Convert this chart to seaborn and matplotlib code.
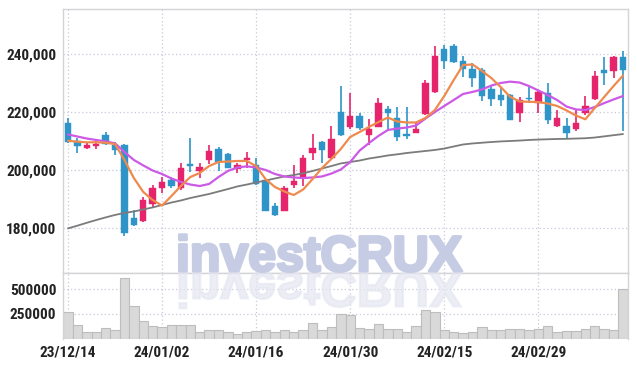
import numpy as np
import pandas as pd
import matplotlib
matplotlib.use("Agg")
import matplotlib.pyplot as plt
import seaborn as sns
from matplotlib import font_manager as fm
from matplotlib import patheffects as pe
from matplotlib.textpath import TextPath
from matplotlib.patches import PathPatch
from matplotlib.font_manager import FontProperties
from matplotlib.transforms import Affine2D
from matplotlib.ticker import FuncFormatter

# trading days (KRX), 23/12/14 .. 24/03/14
dates = ['23/12/14', '23/12/15', '23/12/18', '23/12/19', '23/12/20', '23/12/21', '23/12/22',
         '23/12/26', '23/12/27', '23/12/28',
         '24/01/02', '24/01/03', '24/01/04', '24/01/05', '24/01/08', '24/01/09', '24/01/10',
         '24/01/11', '24/01/12', '24/01/15', '24/01/16', '24/01/17', '24/01/18', '24/01/19',
         '24/01/22', '24/01/23', '24/01/24', '24/01/25', '24/01/26', '24/01/29', '24/01/30',
         '24/01/31', '24/02/01', '24/02/02', '24/02/05', '24/02/06', '24/02/07', '24/02/08',
         '24/02/13', '24/02/14', '24/02/15', '24/02/16', '24/02/19', '24/02/20', '24/02/21',
         '24/02/22', '24/02/23', '24/02/26', '24/02/27', '24/02/28', '24/02/29',
         '24/03/04', '24/03/05', '24/03/06', '24/03/07', '24/03/08', '24/03/11', '24/03/12',
         '24/03/13', '24/03/14']

opens = [216000, 210050, 207600, 208200, 212000, 208600, 208600, 183450, 182400, 188200,
         193600, 196500, 193600, 201900, 199700, 203400, 207200, 205450, 200200, 203400,
         201650, 196500, 187500, 185900, 194750, 197050, 205900, 209600, 204200, 220050,
         214900, 218600, 212000, 214900, 220900, 217800, 212250, 212800, 219300, 227000,
         241750, 242850, 237600, 234800, 234450, 227800, 225850, 225850, 219500, 224900,
         222950, 226650, 215250, 215150, 214100, 219500, 224350, 234450, 234250, 239050]
highs = [217800, 211000, 209200, 210050, 213200, 209700, 208750, 186100, 190500, 194750,
         197600, 197600, 202450, 210900, 202250, 208400, 207800, 205800, 202450, 206250,
         204000, 196800, 188650, 194400, 201650, 205100, 212250, 210000, 215250, 228950,
         226400, 219700, 217450, 224700, 222050, 221800, 221800, 216050, 231000, 242750,
         243100, 243450, 239300, 236800, 235150, 228950, 228700, 226200, 225250, 228950,
         227350, 230100, 220650, 217800, 220650, 225500, 234250, 238850, 239150, 241200]
lows = [209400, 205700, 207100, 207100, 208650, 205100, 177100, 180600, 182100, 187250,
        191900, 193600, 193000, 199350, 197200, 202000, 199700, 200450, 199000, 200500,
        194750, 185600, 184050, 185750, 193600, 194400, 203400, 202450, 203850, 211850,
        214000, 213750, 208600, 214700, 213750, 210050, 210550, 212600, 218950, 226450,
        234700, 236800, 232150, 228700, 223850, 222050, 222050, 217050, 216600, 223200,
        219700, 215800, 214900, 210550, 213400, 218950, 224100, 229300, 231600, 213500]
closes = [209700, 208300, 208600, 208900, 208800, 206850, 178300, 180950, 189550, 193600,
          195900, 194400, 200500, 201400, 201100, 206500, 202800, 200700, 201650, 204000,
          195100, 185900, 184400, 193600, 196150, 204000, 207450, 206850, 210550, 212000,
          218600, 214350, 214000, 222950, 219700, 211450, 211800, 214000, 229900, 239300,
          237700, 237250, 234700, 231800, 225600, 224450, 224100, 217200, 224100, 224450,
          227000, 217200, 218000, 212800, 216050, 222050, 232400, 233550, 239050, 234450]

ma5 = [210050, 209700, 209500, 209500, 209350, 208900, 203400, 197150, 192350, 189550,
       187650, 190950, 194400, 197500, 198900, 201300, 202700, 202850, 203050, 203050,
       201300, 196800, 194050, 192500, 191300, 193200, 196800, 200600, 203750, 207200,
       211350, 213050, 214800, 216500, 218050, 216700, 216350, 216350, 217900, 220650,
       225500, 231000, 236200, 236400, 234150, 231700, 228600, 225250, 223600, 223500,
       223400, 222900, 222050, 220500, 218750, 217450, 221350, 225150, 228950, 232550]
ma20 = [212200, 211500, 210800, 210300, 209800, 209150, 206150, 203400, 201500, 199750,
        198550, 197000, 195800, 194900, 194400, 195100, 197500, 199600, 200800, 201200,
        200800, 199950, 198550, 197700, 197350, 197150, 197350, 197700, 198700, 200100,
        202700, 206650, 209250, 211700, 213750, 214250, 214600, 215300, 217700, 219950,
        222050, 224100, 226200, 226900, 227750, 229100, 230000, 230450, 230150, 228950,
        227400, 225850, 224100, 221850, 220850, 220650, 221700, 223050, 224300, 225500]
ma60 = [179750, 180700, 181700, 182650, 183550, 184400, 185100, 185600, 186300, 187000,
        187850, 188700, 189400, 190250, 190950, 191650, 192500, 193350, 194250, 194900,
        195600, 196300, 197000, 197700, 198200, 198800, 199600, 200450, 201300, 202200,
        202700, 203200, 203900, 204400, 204950, 205350, 205800, 206150, 206500, 206850,
        207350, 208050, 208750, 209100, 209350, 209600, 209800, 209950, 210100, 210300,
        210450, 210550, 210650, 210700, 210800, 210900, 211150, 211550, 211950, 212350]

volume = [267000, 139000, 61000, 71000, 105000, 88000, 611000, 331000, 179000, 129000,
          115000, 139000, 139000, 139000, 68000, 88000, 88000, 68000, 48000, 68000,
          78000, 88000, 61000, 88000, 61000, 88000, 162000, 88000, 115000, 250000,
          243000, 105000, 95000, 149000, 95000, 95000, 68000, 129000, 290000, 270000,
          88000, 68000, 55000, 68000, 115000, 88000, 88000, 98000, 98000, 88000,
          98000, 129000, 68000, 78000, 78000, 98000, 129000, 98000, 88000, 500000]

price_ticks = [180000, 200000, 220000, 240000]
vol_ticks = [250000, 500000]
label_every = 10

UP = '#e5246b'
DOWN = '#2f95c8'
GRID = '#c7c9dc'
SPINE = '#d4d4d8'


def narrow_font():
    # a condensed face if the box has one, otherwise plain Liberation Sans
    for fam in ['Liberation Sans Narrow', 'Roboto Condensed', 'DejaVu Sans Condensed']:
        try:
            fm.findfont(FontProperties(family=fam), fallback_to_default=False)
            return fam, 11.0
        except ValueError:
            pass
    return 'Liberation Sans', 9.6


sns.set_theme(style='white')
tick_family, tick_size = narrow_font()
plt.rcParams['font.family'] = [tick_family, 'DejaVu Sans']

df = pd.DataFrame({'date': dates, 'open': opens, 'high': highs, 'low': lows,
                   'close': closes, 'ma5': ma5, 'ma20': ma20, 'ma60': ma60,
                   'volume': volume})
df['idx'] = np.arange(len(df))
df['up'] = df['close'] >= df['open']
colors = np.where(df['up'], UP, DOWN)

W, H = 637, 366
fig = plt.figure(figsize=(W / 100, H / 100), dpi=100)
fig.patch.set_facecolor('white')
left, right = 63.3, 627.7
ax = fig.add_axes([left / W, (H - 272.7) / H, (right - left) / W, (272.7 - 9.3) / H])
axv = fig.add_axes([left / W, (H - 338.5) / H, (right - left) / W, (338.5 - 272.7) / H])

# volume
sns.barplot(data=df, x='idx', y='volume', ax=axv, color='#d9d9d9', saturation=1,
            edgecolor='#bdbdbd', linewidth=0.8, width=1.0, zorder=2)

# candles
ax.vlines(df['idx'], df['low'], df['high'], colors=colors, linewidth=1.2, zorder=3)
body_bottom = np.minimum(df['open'], df['close'])
body_h = np.maximum(np.abs(df['close'] - df['open']), 350)
ax.bar(df['idx'], body_h, bottom=body_bottom, width=0.68, color=colors,
       edgecolor=colors, linewidth=0.3, zorder=4)

# moving averages
sns.lineplot(data=df, x='idx', y='ma60', ax=ax, color='#7b7b7b', linewidth=1.3, zorder=5)
sns.lineplot(data=df, x='idx', y='ma20', ax=ax, color='#cc5ae6', linewidth=1.6, zorder=5)
sns.lineplot(data=df, x='idx', y='ma5', ax=ax, color='#ef8a4e', linewidth=1.6, zorder=6)

xt = list(range(0, len(df), label_every))
for a in (ax, axv):
    a.set_xlim(-0.5, len(df) - 0.5)
    a.set_xticks(xt)
    a.set_xlabel('')
    a.set_ylabel('')
    a.grid(True, color=GRID, linestyle=(0, (1, 2)), linewidth=0.9)
    a.set_axisbelow(True)
    a.tick_params(length=0, labelsize=tick_size, labelcolor='#222222', pad=5)
    for s in a.spines.values():
        s.set_color(SPINE)
        s.set_linewidth(1.0)

ax.set_ylim(164450, 255450)
ax.set_yticks(price_ticks)
ax.yaxis.set_major_formatter(FuncFormatter(lambda v, p: f'{v:,.0f}'))
ax.set_xticklabels([])

axv.set_ylim(0, 668000)
axv.set_yticks(vol_ticks)
axv.set_yticklabels([str(v) for v in vol_ticks])
axv.set_xticklabels([dates[i] for i in xt])
axv.spines['bottom'].set_visible(False)

for lab in ax.get_yticklabels() + axv.get_yticklabels() + axv.get_xticklabels():
    lab.set_fontweight('bold')

# watermark + its reflection
wm = 'investCRUX'
fp = FontProperties(family='Liberation Sans', weight='bold')
wm_size = 36
wm_col = '#c6cce4'
x0, base = 176, H - 271
fig.text(x0 / W, base / H, wm, fontproperties=fp, fontsize=wm_size,
         color=wm_col, ha='left', va='baseline', zorder=10,
         path_effects=[pe.withStroke(linewidth=2.2, foreground=wm_col)])
tp = TextPath((0, 0), wm, size=wm_size, prop=fp)
k = fig.dpi / 72
refl = PathPatch(tp, facecolor='#e4e6f1', edgecolor='#e4e6f1', linewidth=1.6,
                 alpha=0.65, zorder=9,
                 transform=Affine2D().scale(k, -k).translate(x0, base - 1))
fig.add_artist(refl)

fig.savefig('out.png', dpi=100)
